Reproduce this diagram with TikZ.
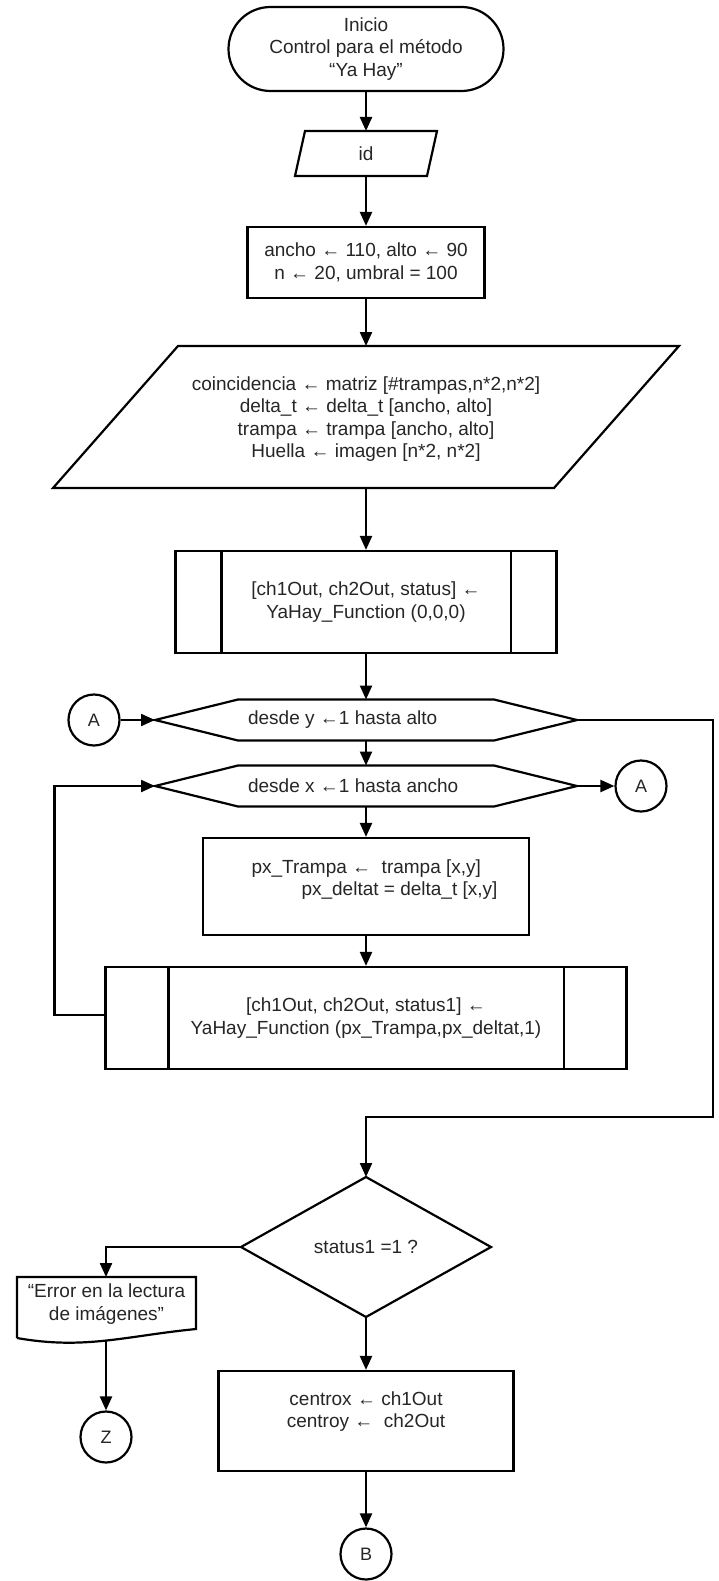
\documentclass[tikz,border=0pt]{standalone}
\usepackage{fontspec}
\setmainfont{Liberation Sans}
\usetikzlibrary{arrows.meta}
\begin{document}
\begin{tikzpicture}[x=1pt,y=-1pt,
  line width=2.2pt, line join=miter,
  >={Triangle[length=14pt,width=12pt]},
  every node/.style={text=black!85, font=\fontsize{19}{22.5}\selectfont, inner sep=0pt},
  txt/.style={align=center},
  box/.style={draw=black, align=center},
  conn/.style={draw=black, circle, minimum size=51pt, font=\fontsize{18}{21}\selectfont},
  flow/.style={->}]
\useasboundingbox (0,0) rectangle (718,1581);
\fill[white] (0,0) rectangle (718,1581);

% start terminator
\node[box, rounded corners=42pt, minimum width=275pt, minimum height=84pt] (start) at (366,49)
  {Inicio\\Control para el método\\“Ya Hay”};

% input: id
\node[txt] (id) at (366,153.5) {id};
\coordinate (idT) at (366,131);
\coordinate (idB) at (366,176);
\draw (295,176) -- (305,131) -- (437,131) -- (427,176) -- cycle;

% initial values
\node[box, minimum width=237pt, minimum height=71pt] (init) at (366,262.5)
  {ancho ← 110, alto ← 90\\n ← 20, umbral = 100};

% data input
\node[txt] (data) at (366,419)
  {coincidencia ← matriz [\#trampas,n*2,n*2]\\delta\_t ← delta\_t [ancho, alto]\\trampa ← trampa [ancho, alto]\\Huella ← imagen [n*2, n*2]};
\coordinate (dataT) at (366,346);
\coordinate (dataB) at (366,488);
\draw (53,488) -- (178,346) -- (679,346) -- (554,488) -- cycle;

% first subroutine call
\node[box, minimum width=381pt, minimum height=102pt] (sub1) at (366,602)
  {[ch1Out, ch2Out, status] ←\\YaHay\_Function (0,0,0)};
\draw ([xshift=47pt]sub1.north west) -- ([xshift=47pt]sub1.south west);
\draw ([xshift=-47pt]sub1.north east) -- ([xshift=-47pt]sub1.south east);

% outer loop
\coordinate (h1L) at (155,720);
\coordinate (h1R) at (577,720);
\coordinate (h1T) at (366,699.5);
\coordinate (h1B) at (366,740.5);
\draw (h1L) -- (238,699.5) -- (494,699.5) -- (h1R) -- (494,740.5) -- (238,740.5) -- cycle;
\node[anchor=west] (hy) at (247,720) {desde y ←1 hasta alto};

% inner loop
\coordinate (h2L) at (155,786);
\coordinate (h2R) at (577,786);
\coordinate (h2T) at (366,765.5);
\coordinate (h2B) at (366,806.5);
\draw (h2L) -- (238,765.5) -- (494,765.5) -- (h2R) -- (494,806.5) -- (238,806.5) -- cycle;
\node[anchor=west] (hx) at (247,786) {desde x ←1 hasta ancho};

% connectors A
\node[conn] (A1) at (94,720) {A};
\node[conn] (A2) at (641,786) {A};

% pixel values
\node[box, align=left, minimum width=326pt, minimum height=97pt] (px) at (366,886.5)
  {\hspace*{17pt}px\_Trampa ←\ \ trampa [x,y]\\\hspace*{67pt}px\_deltat = delta\_t [x,y]\\[-4.5pt]\mbox{}};

% second subroutine call
\node[box, minimum width=521pt, minimum height=102pt] (sub2) at (366,1018)
  {[ch1Out, ch2Out, status1] ←\\YaHay\_Function (px\_Trampa,px\_deltat,1)};
\draw ([xshift=64pt]sub2.north west) -- ([xshift=64pt]sub2.south west);
\draw ([xshift=-64pt]sub2.north east) -- ([xshift=-64pt]sub2.south east);

% decision
\coordinate (dT) at (366,1177);
\coordinate (dB) at (366,1317);
\coordinate (dL) at (241,1247);
\coordinate (dR) at (491,1247);
\draw (dT) -- (dR) -- (dB) -- (dL) -- cycle;
\node[txt] (dec) at (366,1247) {status1 =1 ?};

% error document
\coordinate (docT) at (106,1277);
\coordinate (docB) at (106,1340);
\draw (17,1338) -- (17,1277) -- (196,1277) -- (196,1329)
  .. controls (125,1336) and (85,1350) .. (17,1338);
\node[txt] (err) at (106.5,1304) {“Error en la lectura\\de imágenes”};
\node[conn] (Z) at (106,1437) {Z};

% result
\node[box, minimum width=295pt, minimum height=100pt] (cen) at (366,1421)
  {centrox ← ch1Out\\centroy ←\ \ ch2Out\\\mbox{}};
\node[conn] (B) at (366,1554) {B};

% flow lines
\coordinate (rc) at (713,1117);
\draw[flow] (start.south) -- (idT);
\draw[flow] (idB) -- (init.north);
\draw[flow] (init.south) -- (dataT);
\draw[flow] (dataB) -- (sub1.north);
\draw[flow] (sub1.south) -- (h1T);
\draw[flow] (h1B) -- (h2T);
\draw[flow] (h2B) -- (px.north);
\draw[flow] (px.south) -- (sub2.north);
\draw[flow] (A1.east) -- (h1L);
\draw[flow] (h2R) -- (A2.west);
\draw[flow] ([yshift=3pt]sub2.west) -- ++(-50,0) |- (h2L);
\draw[flow] (h1R) -| (rc) -| (dT);
\draw[flow] (dL) -| (docT);
\draw[flow] (docB) -- (Z.north);
\draw[flow] (dB) -- (cen.north);
\draw[flow] (cen.south) -- (B.north);
\end{tikzpicture}
\end{document}
